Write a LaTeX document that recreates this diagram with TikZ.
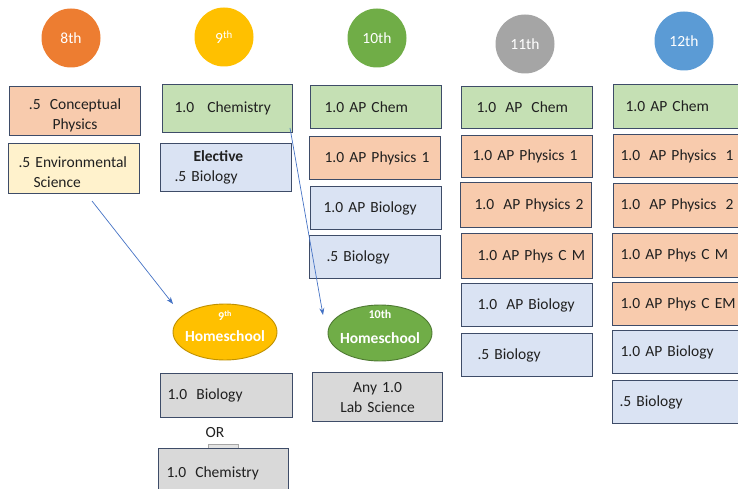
\documentclass[tikz,border=0pt]{standalone}
\usepackage{fontspec}
\setmainfont{Carlito}
\usetikzlibrary{arrows.meta,shapes.geometric}
\definecolor{boxline}{HTML}{3E4C68}
\definecolor{peach}{HTML}{F8CBAD}
\definecolor{lyellow}{HTML}{FFF2CC}
\definecolor{lgreen}{HTML}{C5E0B4}
\definecolor{lblue}{HTML}{DAE3F3}
\definecolor{lgray}{HTML}{D9D9D9}
\definecolor{corange}{HTML}{ED7D31}
\definecolor{cgold}{HTML}{FFC000}
\definecolor{cgreen}{HTML}{70AD47}
\definecolor{cgray}{HTML}{A5A5A5}
\definecolor{cblue}{HTML}{5B9BD5}
\definecolor{txt}{HTML}{202020}
\definecolor{arrowblue}{HTML}{4472C4}
\newcommand\dsp{\hspace{4pt}}
\tikzset{
  box/.style={rectangle, draw=boxline, line width=1.1pt, anchor=north west,
    align=left, inner ysep=2pt, text=txt, font=\fontsize{15.5}{20}\selectfont},
  bx/.style n args={4}{minimum width=#1pt, minimum height=#2pt, inner xsep=#3pt, text width=#4pt},
  grade/.style={circle, minimum size=59pt, inner sep=0pt, text=white,
    font=\fontsize{15.5}{19}\selectfont},
  homes/.style={ellipse, minimum width=104pt, minimum height=56pt, inner xsep=-10pt, inner ysep=-12pt,
    line width=0.9pt, text=white, align=center, font=\bfseries\fontsize{15.5}{19}\selectfont},
  conn/.style={draw=arrowblue, line width=0.7pt, -{Stealth[length=7pt,width=5pt]}},
}
\begin{document}
\begin{tikzpicture}[x=1pt,y=-1pt]
\useasboundingbox (0,0) rectangle (738,489);
% grade circles
\node[grade, fill=corange] (g8) at (71,38) {8th};
\node[grade, fill=cgold] (g9) at (224,37) {9\textsuperscript{th}};
\node[grade, fill=cgreen] (g10) at (377,38) {10th};
\node[grade, fill=cgray] (g11) at (525,44) {11th};
\node[grade, fill=cblue] (g12) at (684,41) {12th};
% 8th
\node[box, fill=peach, bx={131}{49}{0}{131}, align=center] (c8a) at (9,86) {\rule{0pt}{19pt}.5\dsp\ Conceptual\\Physics};
\node[box, fill=lyellow, bx={131}{50}{10}{111}] (c8b) at (8,143) {\rule{0pt}{19pt}\mbox{.5 Environmental}\\\hspace*{15pt}Science};
% 9th
\node[box, fill=lgreen, bx={130}{48}{12}{106}] (c9a) at (162,84) {\raisebox{3pt}{\mbox{1.0\dsp\dsp\ Chemistry}}};
\node[box, fill=lblue, bx={131}{48}{14}{103}] (c9b) at (160,143) {\hspace*{19pt}\textbf{Elective}\\.5 Biology};
% 10th
\node[box, fill=lgreen, bx={131}{43}{14}{103}] (c10a) at (310,85) {\mbox{1.0 AP Chem}};
\node[box, fill=peach, bx={131}{43}{15}{101}] (c10b) at (309,136) {\mbox{1.0 AP Physics 1}};
\node[box, fill=lblue, bx={131}{43}{13}{105}] (c10c) at (310,186) {\mbox{1.0 AP Biology}};
\node[box, fill=lblue, bx={131}{43}{17}{97}] (c10d) at (309,235) {\mbox{.5 Biology}};
% 11th
\node[box, fill=lgreen, bx={131}{42}{15}{101}] (c11a) at (461,86) {\mbox{1.0\dsp\ AP\dsp\ Chem}};
\node[box, fill=peach, bx={131}{42}{11}{109}] (c11b) at (461,135) {\mbox{1.0 AP Physics 1}};
\node[box, fill=peach, bx={131}{45}{14}{103}] (c11c) at (460,182) {\mbox{1.0\dsp\ AP Physics 2}};
\node[box, fill=peach, bx={131}{45}{16}{99}] (c11d) at (461,233) {\mbox{1.0 AP Phys C M}};
\node[box, fill=lblue, bx={131}{43}{16}{99}] (c11e) at (461,283) {\mbox{1.0\dsp\ AP Biology}};
\node[box, fill=lblue, bx={131}{43}{16}{99}] (c11f) at (461,333) {\mbox{.5 Biology}};
% 12th
\node[box, fill=lgreen, bx={135}{44}{12}{111}] (c12a) at (613,84) {\mbox{1.0 AP Chem}};
\node[box, fill=peach, bx={135}{43}{7}{121}] (c12b) at (613,134) {\mbox{1.0\dsp\ AP Physics\dsp\ 1}};
\node[box, fill=peach, bx={135}{44}{7}{121}] (c12c) at (613,183) {\mbox{1.0\dsp\ AP Physics\dsp\ 2}};
\node[box, fill=peach, bx={136}{44}{8}{120}] (c12d) at (612,233) {\mbox{1.0 AP Phys C M}};
\node[box, fill=peach, bx={136}{43}{8}{120}] (c12e) at (612,282) {\mbox{1.0 AP Phys C EM}};
\node[box, fill=lblue, bx={136}{43}{8}{120}] (c12f) at (612,330) {\mbox{1.0 AP Biology}};
\node[box, fill=lblue, bx={136}{43}{7}{122}] (c12g) at (612,380) {\mbox{.5 Biology}};
% homeschool
\node[homes, fill=cgold, draw=cgold!75!black, text depth=12pt] (hs9) at (225,332)
  {{\fontsize{12}{14}\selectfont 9\textsuperscript{th}}\\[2pt]Homeschool};
\node[homes, fill=cgreen, draw=cgreen!70!black, text depth=12pt] (hs10) at (380,333)
  {{\fontsize{12}{14}\selectfont 10th}\\[6pt]Homeschool};
% bottom boxes
\node[box, fill=lgray, bx={132}{44}{7}{118}] (b9a) at (160,373) {\mbox{1.0\dsp\ Biology}};
\node[text=txt, font=\fontsize{15.5}{19}\selectfont, inner sep=0pt] (or) at (215,433) {OR};
\node[rectangle, fill=lgray!70!white, draw=gray!70, line width=0.5pt, minimum width=30pt, minimum height=5pt, inner sep=0pt] (orbar) at (223,446.5) {};
\node[box, fill=lgray, bx={130}{49}{8}{114}] (b9b) at (158,448) {\mbox{1.0\dsp\ Chemistry}};
\node[box, fill=lgray, bx={130}{49}{0}{130}, align=center] (b10) at (312,372) {Any 1.0\\Lab Science};
% connectors
\coordinate (a1s) at (92,201);
\coordinate (a1e) at (173,304);
\coordinate (a2s) at (290,128);
\coordinate (a2e) at (323,315);
\draw[conn] (a1s) -- (a1e);
\draw[conn] (a2s) -- (a2e);
\end{tikzpicture}
\end{document}
